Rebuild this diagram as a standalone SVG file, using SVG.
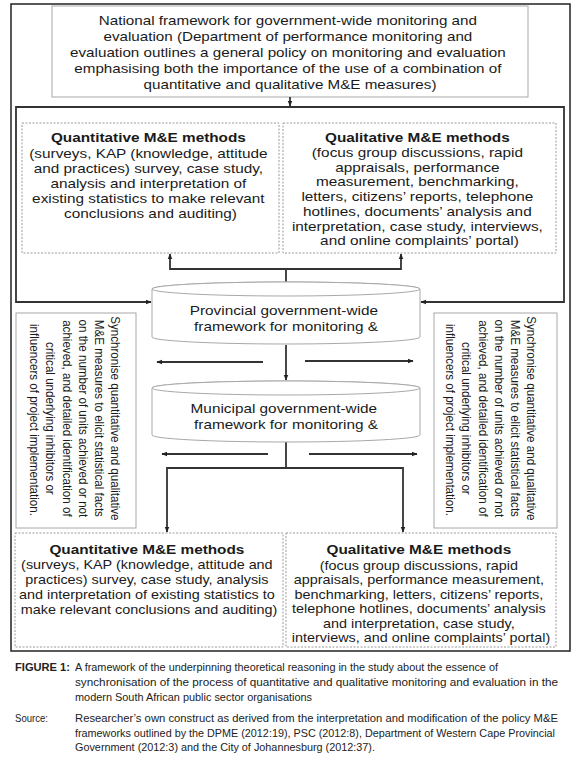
<svg xmlns="http://www.w3.org/2000/svg" width="580" height="770" viewBox="0 0 580 770">
<style>
.t{font-family:"Liberation Sans",Arial,sans-serif;font-size:13px;fill:#1a1a1a;text-anchor:middle}
.b{font-weight:bold}
.s{font-size:12.2px}
.r{font-size:11.6px}
.c{font-family:"Liberation Sans",Arial,sans-serif;font-size:10.8px;fill:#222}
.lbox{fill:#fff;stroke:#a8a8a8;stroke-width:1}
.dbox{fill:#fff;stroke:#9a9a9a;stroke-width:1;stroke-dasharray:2 1.5}
.cyl{fill:#fff;stroke:#a8a8a8;stroke-width:1}
.frame{fill:none;stroke:#222;stroke-width:1.5}
.ka{fill:none;stroke:#333;stroke-width:1.8;marker-end:url(#ah)}
</style>
<defs>
<marker id="ah" viewBox="0 0 10 10" refX="9" refY="5" markerWidth="6" markerHeight="6" markerUnits="userSpaceOnUse" orient="auto"><path d="M0,1 L10,5 L0,9 z" fill="#222"/></marker>
</defs>
<rect width="580" height="770" fill="#fff"/>
<rect x="11" y="4" width="559" height="647" class="frame"/>

<g id="national">
<rect x="52" y="6" width="476" height="91" class="lbox"/>
<text class="t" transform="translate(290,0) scale(1.17,1)">
<tspan x="0" y="25">National framework for government-wide monitoring and</tspan>
<tspan x="0" y="41">evaluation (Department of performance monitoring and</tspan>
<tspan x="0" y="57">evaluation outlines a general policy on monitoring and evaluation</tspan>
<tspan x="0" y="73">emphasising both the importance of the use of a combination of</tspan>
<tspan x="0" y="89">quantitative and qualitative M&amp;E measures)</tspan>
</text>
</g>

<g id="connectors">
<path class="ka" d="M290,97 V106"/>
<path class="ka" d="M290,107 H16 V302 H151"/>
<path class="ka" d="M290,107 H564 V302 H421"/>
<path class="ka" d="M286,282 V269 H170 V254"/>
<path class="ka" d="M286,269 H401 V254"/>
<path class="ka" d="M286,345 V380"/>
<path class="ka" d="M263,362 H157"/>
<path class="ka" d="M305,361 H413"/>
<path class="ka" d="M268,454 H162"/>
<path class="ka" d="M309,454 H417"/>
<path class="ka" d="M286,442 V468 H167 V532"/>
<path class="ka" d="M286,468 H403 V532"/>
</g>

<g id="quant-top">
<rect x="22" y="123" width="257" height="130" class="dbox"/>
<text class="t" transform="translate(150.5,0) scale(1.18,1)">
<tspan x="0" y="142" class="b">Quantitative M&amp;E methods</tspan>
<tspan x="0" y="158">(surveys, KAP (knowledge, attitude</tspan>
<tspan x="0" y="173">and practices) survey, case study,</tspan>
<tspan x="0" y="188">analysis and interpretation of</tspan>
<tspan x="0" y="203">existing statistics to make relevant</tspan>
<tspan x="0" y="218">conclusions and auditing)</tspan>
</text>
</g>

<g id="qual-top">
<rect x="283" y="123" width="273" height="130" class="dbox"/>
<text class="t" transform="translate(419.5,0) scale(1.18,1)">
<tspan x="0" y="142" class="b">Qualitative M&amp;E methods</tspan>
<tspan x="0" y="157">(focus group discussions, rapid</tspan>
<tspan x="0" y="172">appraisals, performance</tspan>
<tspan x="0" y="186.5">measurement, benchmarking,</tspan>
<tspan x="0" y="201">letters, citizens’ reports, telephone</tspan>
<tspan x="0" y="216">hotlines, documents’ analysis and</tspan>
<tspan x="0" y="231">interpretation, case study, interviews,</tspan>
<tspan x="0" y="245.5">and online complaints’ portal)</tspan>
</text>
</g>

<g id="provincial">
<path class="cyl" d="M152,289 V337 A134,7 0 0 0 420,337 V289 A134,7 0 0 0 152,289 Z"/>
<ellipse cx="286" cy="289" rx="134" ry="7" class="cyl"/>
<text class="t" transform="translate(286,0) scale(1.18,1)">
<tspan x="0" y="315">Provincial government-wide</tspan>
<tspan x="0" y="331">framework for monitoring &amp;</tspan>
</text>
</g>

<g id="municipal">
<path class="cyl" d="M152,388 V435 A134,7 0 0 0 420,435 V388 A134,7 0 0 0 152,388 Z"/>
<ellipse cx="286" cy="388" rx="134" ry="7" class="cyl"/>
<text class="t" transform="translate(286,0) scale(1.18,1)">
<tspan x="0" y="413">Municipal government-wide</tspan>
<tspan x="0" y="429">framework for monitoring &amp;</tspan>
</text>
</g>

<g id="sync-left">
<rect x="16" y="313" width="120" height="215" class="lbox"/>
<text class="t r" transform="translate(76,420) scale(1.18,1) rotate(90)">
<tspan x="0" y="-30">Synchronise quantitative and qualitative</tspan>
<tspan x="0" y="-16.2">M&amp;E measures to elicit statistical facts</tspan>
<tspan x="0" y="-2.4">on the number of units achieved or not</tspan>
<tspan x="0" y="11.4">achieved, and detailed identification of</tspan>
<tspan x="0" y="25.2">critical underlying inhibitors or</tspan>
<tspan x="0" y="39">influencers of project implementation.</tspan>
</text>
</g>

<g id="sync-right">
<rect x="434" y="313" width="123" height="215" class="lbox"/>
<text class="t r" transform="translate(492,420) scale(1.18,1) rotate(90)">
<tspan x="0" y="-30">Synchronise quantitative and qualitative</tspan>
<tspan x="0" y="-16.2">M&amp;E measures to elicit statistical facts</tspan>
<tspan x="0" y="-2.4">on the number of units achieved or not</tspan>
<tspan x="0" y="11.4">achieved, and detailed identification of</tspan>
<tspan x="0" y="25.2">critical underlying inhibitors or</tspan>
<tspan x="0" y="39">influencers of project implementation.</tspan>
</text>
</g>

<g id="quant-bottom">
<rect x="15" y="533" width="268" height="114" class="dbox"/>
<text class="t" transform="translate(149,0) scale(1.18,1)">
<tspan x="0" y="554" class="b">Quantitative M&amp;E methods</tspan>
<tspan x="0" y="569.5" class="s">(surveys, KAP (knowledge, attitude and</tspan>
<tspan x="0" y="584.5" class="s">practices) survey, case study, analysis</tspan>
<tspan x="0" y="599.5" class="s">and interpretation of existing statistics to</tspan>
<tspan x="0" y="614.5" class="s">make relevant conclusions and auditing)</tspan>
</text>
</g>

<g id="qual-bottom">
<rect x="286" y="533" width="270" height="114" class="dbox"/>
<text class="t" transform="translate(421,0) scale(1.18,1)">
<tspan x="0" y="554" class="b">Qualitative M&amp;E methods</tspan>
<tspan x="0" y="570" class="s">(focus group discussions, rapid</tspan>
<tspan x="0" y="584.5" class="s">appraisals, performance measurement,</tspan>
<tspan x="0" y="599" class="s">benchmarking, letters, citizens’ reports,</tspan>
<tspan x="0" y="613.5" class="s">telephone hotlines, documents’ analysis</tspan>
<tspan x="0" y="628" class="s">and interpretation, case study,</tspan>
<tspan x="0" y="642.5" class="s">interviews, and online complaints’ portal)</tspan>
</text>
</g>

<g id="caption">
<text class="c b" x="15" y="671" textLength="55" lengthAdjust="spacingAndGlyphs">FIGURE 1:</text>
<text class="c" x="75" y="671" textLength="423" lengthAdjust="spacingAndGlyphs">A framework of the underpinning theoretical reasoning in the study about the essence of</text>
<text class="c" x="75" y="686" textLength="483" lengthAdjust="spacingAndGlyphs">synchronisation of the process of quantitative and qualitative monitoring and evaluation in the</text>
<text class="c" x="75" y="700.5" textLength="237" lengthAdjust="spacingAndGlyphs">modern South African public sector organisations</text>
<text class="c" x="15" y="722" textLength="33" lengthAdjust="spacingAndGlyphs">Source:</text>
<text class="c" x="75" y="722" textLength="483" lengthAdjust="spacingAndGlyphs">Researcher’s own construct as derived from the interpretation and modification of the policy M&amp;E</text>
<text class="c" x="75" y="737" textLength="480" lengthAdjust="spacingAndGlyphs">frameworks outlined by the DPME (2012:19), PSC (2012:8), Department of Western Cape Provincial</text>
<text class="c" x="75" y="751" textLength="300" lengthAdjust="spacingAndGlyphs">Government (2012:3) and the City of Johannesburg (2012:37).</text>
</g>
</svg>
